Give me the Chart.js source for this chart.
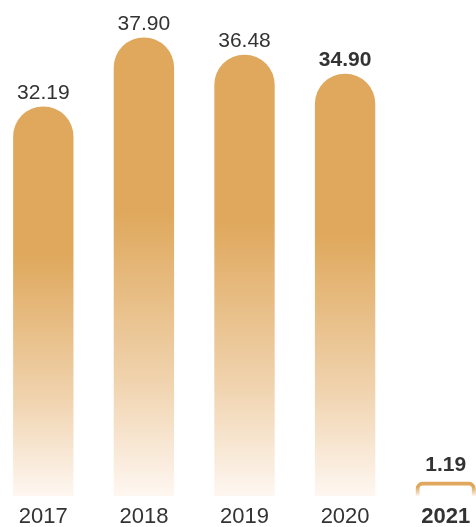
<!DOCTYPE html>
<html>
<head>
<meta charset="utf-8">
<script src="https://cdn.jsdelivr.net/npm/chart.js@4/dist/chart.umd.min.js"></script>
<style>
  html, body { margin: 0; padding: 0; background: #fff; overflow: hidden; }
  #wrap { position: absolute; left: -7px; top: 0; width: 503px; height: 527px; }
</style>
</head>
<body>
<div id="wrap"><canvas id="bars" width="503" height="527"></canvas></div>
<script>
'use strict';

var years = ['2017', '2018', '2019', '2020', '2021'];
var values = [32.19, 37.90, 36.48, 34.90, 1.19];
var boldYears = ['2020', '2021'];
var outlineYears = ['2021'];

var gold = '#dfa85c';
var mid = '#f0d3ae';
var pale = '#fef7f1';

function isOutline(i) {
    return outlineYears.indexOf(years[i]) !== -1;
}

function barFill(ctx, value) {
    let chart = ctx.chart;
    if (!chart.chartArea) return gold;
    let y = chart.scales.y;
    let top = y.getPixelForValue(value);
    let bottom = y.getPixelForValue(0);
    let g = chart.ctx.createLinearGradient(0, top, 0, bottom);
    g.addColorStop(0, gold);
    g.addColorStop(0.38, gold);
    g.addColorStop(0.75, mid);
    g.addColorStop(1, pale);
    return g;
}

// value labels above each bar
var valueLabels = {
    id: 'valueLabels',
    afterDatasetsDraw: function (chart) {
        let c = chart.ctx;
        let meta = chart.getDatasetMeta(0);
        c.save();
        c.textAlign = 'center';
        c.textBaseline = 'alphabetic';
        c.fillStyle = '#333333';
        meta.data.forEach(function (bar, i) {
            let bold = boldYears.indexOf(years[i]) !== -1;
            c.font = (bold ? 'bold ' : '') + '21px "Liberation Sans", Arial, sans-serif';
            c.fillText(values[i].toFixed(2), bar.x, bar.y - (isOutline(i) ? 11 : 8));
        });
        c.restore();
    }
};

new Chart(document.getElementById('bars'), {
    type: 'bar',
    data: {
        labels: years,
        datasets: [{
            data: values,
            backgroundColor: function (ctx) {
                if (isOutline(ctx.dataIndex)) return 'rgba(0,0,0,0)';
                return barFill(ctx, values[ctx.dataIndex]);
            },
            borderColor: function (ctx) {
                return barFill(ctx, values[ctx.dataIndex]);
            },
            borderWidth: function (ctx) {
                return isOutline(ctx.dataIndex) ? 4 : 0;
            },
            borderSkipped: 'bottom',
            borderRadius: { topLeft: 30, topRight: 30, bottomLeft: 0, bottomRight: 0 },
            barPercentage: 0.6,
            categoryPercentage: 1
        }]
    },
    options: {
        responsive: false,
        devicePixelRatio: 1,
        animation: false,
        layout: { padding: 0 },
        plugins: {
            legend: { display: false },
            tooltip: { enabled: false }
        },
        scales: {
            x: {
                grid: { display: false, drawTicks: false },
                border: { display: false },
                afterFit: function (scale) {
                    scale.height = 31;
                },
                ticks: {
                    padding: 10,
                    color: '#333333',
                    font: function (ctx) {
                        return {
                            family: '"Liberation Sans", Arial, sans-serif',
                            size: 22,
                            lineHeight: 1,
                            weight: ctx.index === 4 ? 'bold' : 'normal'
                        };
                    }
                }
            },
            y: {
                display: false,
                min: 0,
                max: 41
            }
        }
    },
    plugins: [valueLabels]
});
</script>
</body>
</html>
